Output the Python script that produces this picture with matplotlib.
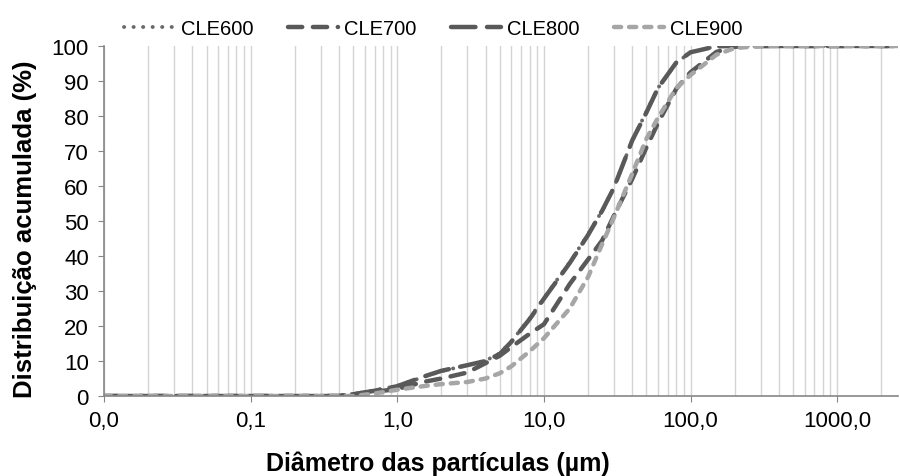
import matplotlib
matplotlib.use("Agg")
import matplotlib.pyplot as plt
from matplotlib.ticker import FixedLocator, FuncFormatter, LogLocator, NullFormatter

plt.rcParams['font.family'] = ['Liberation Sans', 'DejaVu Sans']

# particle diameter (um)
diam = [0.01, 0.02, 0.05, 0.1, 0.2, 0.3, 0.4, 0.5, 0.7, 1, 1.5, 2, 3, 4, 5, 6, 8,
        10, 15, 20, 25, 30, 40, 50, 60, 80, 100, 150, 200, 300, 500, 1000, 2000, 2600]

cle600 = [0, 0, 0, 0, 0, 0, 0.1, 0.6, 1.6, 2.9, 5.4, 7.1, 8.8, 10.1, 12.2, 15.6, 22.2,
          28.0, 38.2, 46.2, 53.0, 59.6, 73.0, 81.2, 88.0, 95.2, 98.2, 99.9, 100, 100, 100, 100, 100, 100]
cle700 = [0, 0, 0, 0, 0, 0, 0, 0.5, 1.2, 2.0, 4.0, 5.0, 6.7, 9.4, 11.5, 14.0, 17.8,
          20.5, 32.0, 39.0, 44.5, 51.5, 62.0, 71.0, 78.0, 87.8, 92.5, 98.3, 99.8, 100, 100, 100, 100, 100]
cle800 = [0, 0, 0, 0, 0, 0, 0, 0.5, 1.5, 2.8, 5.5, 7.2, 8.8, 10.0, 12.0, 15.5, 22.0,
          27.8, 38.0, 46.0, 53.0, 59.5, 73.0, 81.0, 88.0, 95.3, 98.2, 99.9, 100, 100, 100, 100, 100, 100]
cle900 = [0, 0, 0, 0, 0, 0, 0, 0, 0.7, 1.8, 2.8, 3.4, 4.0, 5.0, 6.5, 8.5, 12.8,
          16.5, 25.0, 34.0, 43.5, 51.0, 63.5, 73.5, 79.5, 88.0, 91.7, 97.5, 99.4, 100, 100, 100, 100, 100]

dark = '#595959'
light = '#a6a6a6'

fig = plt.figure(figsize=(9, 4.77), dpi=100)
ax = fig.add_axes([0.1156, 0.1677, 0.8822, 0.7338])

ax.plot(diam, cle600, color='#6a6a6a', lw=2.8, linestyle=(0, (0.05, 2.4)), dash_capstyle='round', label='CLE600')
ax.plot(diam, cle700, color=dark, lw=3.2, linestyle=(0, (3.2, 2.4)), dash_capstyle='round', label='CLE700')
ax.plot(diam, cle800, color=dark, lw=3.2, linestyle=(0, (5.5, 2.6)), dash_capstyle='round', label='CLE800')
ax.plot(diam, cle900, color=light, lw=3.2, linestyle=(0, (1.6, 1.8)), dash_capstyle='round', label='CLE900')

ax.set_xscale('log')
ax.set_xlim(0.01, 2600)
ax.set_ylim(0, 100)

ax.xaxis.set_major_locator(FixedLocator([0.01, 0.1, 1, 10, 100, 1000]))
ax.xaxis.set_major_formatter(FuncFormatter(lambda v, p: f"{v:.1f}".replace('.', ',')))
ax.xaxis.set_minor_locator(LogLocator(base=10, subs=range(2, 10), numticks=20))
ax.xaxis.set_minor_formatter(NullFormatter())
ax.set_yticks(range(0, 101, 10))

ax.grid(True, which='both', axis='x', color='#d4d4d4', lw=1)
ax.set_axisbelow(True)

for s in ['top', 'right']:
    ax.spines[s].set_visible(False)
for s in ['left', 'bottom']:
    ax.spines[s].set_color('#868686')
    ax.spines[s].set_linewidth(1.2)

ax.tick_params(axis='both', which='major', direction='out', length=4, color='#868686', labelsize=16)
ax.tick_params(axis='y', pad=7)
ax.tick_params(axis='x', pad=6)
ax.tick_params(axis='x', which='minor', length=0)

ax.set_xlabel('Diâmetro das partículas (µm)', fontsize=18, fontweight='bold', labelpad=15)
ax.xaxis.set_label_coords(0.42, -0.155)
ax.set_ylabel('Distribuição acumulada (%)', fontsize=18.5, fontweight='bold', labelpad=8)
ax.yaxis.set_label_coords(-0.084, 0.48)

ax.legend(loc='lower center', bbox_to_anchor=(0.415, 1.0), ncol=4, frameon=False,
          fontsize=14.5, handlelength=2.5, columnspacing=1.7, handletextpad=0.3, borderaxespad=0.0)

fig.savefig('out.png', dpi=100)
